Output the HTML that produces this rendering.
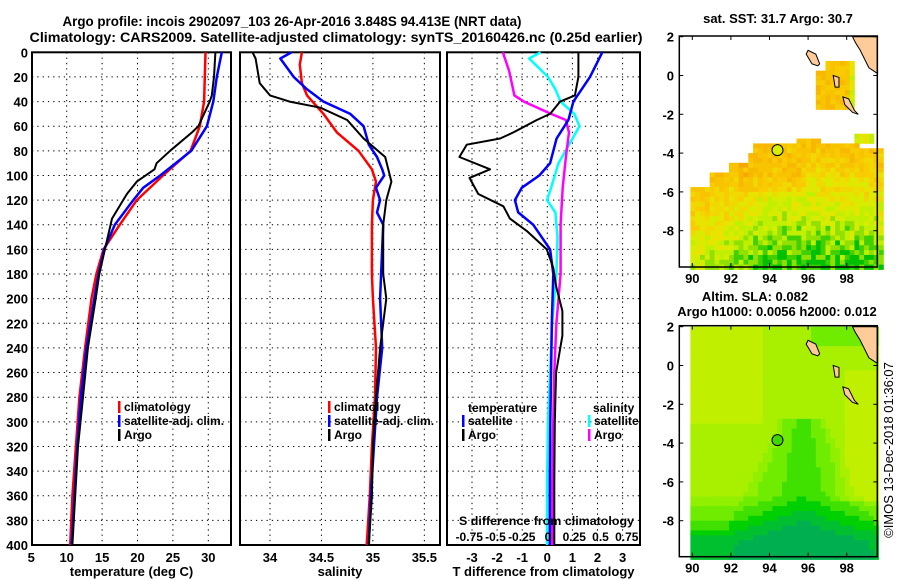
<!DOCTYPE html>
<html><head><meta charset="utf-8">
<style>
html,body{margin:0;padding:0;background:#fff;}
svg{display:block;font-family:"Liberation Sans",sans-serif;font-weight:bold;}
text{font-weight:bold;}
</style></head>
<body>
<svg id="fig" width="900" height="580" viewBox="0 0 900 580" xmlns="http://www.w3.org/2000/svg">
<text x="292" y="26" font-size="14" text-anchor="middle" textLength="459" lengthAdjust="spacingAndGlyphs">Argo profile: incois 2902097_103 26-Apr-2016 3.848S 94.413E (NRT data)</text>
<text x="336" y="42" font-size="14" text-anchor="middle" textLength="613" lengthAdjust="spacingAndGlyphs">Climatology: CARS2009. Satellite-adjusted climatology: synTS_20160426.nc (0.25d earlier)</text>
<g id="g1"></g>
<g id="g2"></g>
<g id="g3"></g>
<g id="m1"></g>
<g id="m2"></g>
<text transform="translate(893,450) rotate(-90)" font-size="13" text-anchor="middle" style="font-weight:normal">©IMOS 13-Dec-2018 01:36:07</text>
</svg>
<script>
// ---- data ----
const depthTicks = [0,20,40,60,80,100,120,140,160,180,200,220,240,260,280,300,320,340,360,380,400];
const tempTicks = [5,10,15,20,25,30];
const salTicks = [34,34.5,35,35.5];
const tdiffTicks = [-3,-2,-1,0,1,2,3];
const sdiffTickLabels = ["-0.75","-0.5","-0.25","0","0.25","0.5","0.75"];
const sdiffTickValues = [-0.75,-0.5,-0.25,0,0.25,0.5,0.75];

const climDepth = [0,40,60,80,100,120,140,160,180,200,240,280,320,360,400];
const climTemp  = [29.6,29.4,28.8,27.5,23.6,19.9,17.5,15.2,14.2,13.5,12.6,11.8,11.3,10.8,10.5];
const argoDepth = [0,20,35,40,60,65,80,90,95,105,115,135,160,180,200,240,280,320,360,400];
const argoTemp  = [31.0,30.8,30.5,30.2,28.6,27.7,24.6,22.7,22.4,19.9,18.5,16.4,15.4,14.6,14.1,13.0,12.3,11.6,11.2,10.8];
const satDepth  = [0,20,40,60,80,100,110,120,140,160,180,200,240,280,320,360,400];
const satTemp   = [31.9,31.2,30.7,29.8,27.6,23.2,20.8,19.4,16.8,15.3,14.5,13.9,12.8,12.0,11.5,11.1,10.7];

const argoSalDepth = [0,5,25,30,35,40,45,55,70,85,105,120,140,180,200,220,240,280,320,360,400];
const argoSal      = [33.83,33.86,33.90,33.95,34.0,34.19,34.49,34.75,34.91,35.12,35.18,35.13,35.10,35.10,35.13,35.10,35.07,35.03,35.0,34.99,34.96];
const satSalDepth  = [0,5,20,30,40,50,60,75,85,95,100,110,120,130,140,180,200,240,280,320,360,400];
const satSal       = [34.21,34.10,34.23,34.36,34.52,34.78,34.91,34.96,35.04,35.09,35.11,35.03,35.07,35.04,35.10,35.08,35.07,35.09,35.04,35.01,34.98,34.96];
const climSalDepth = [0,10,25,35,50,65,80,95,105,120,140,180,200,240,280,320,360,400];
const climSal      = [34.31,34.29,34.31,34.36,34.52,34.65,34.86,34.99,35.03,35.0,34.99,34.99,35.0,35.03,35.02,34.99,34.97,34.94];

const tdArgoDepth = [0,20,35,40,50,55,65,70,75,85,95,102,115,125,135,145,160,175,190,210,230,260,300,350,400];
const tdArgo      = [1.24,1.24,1.10,0.51,0.11,-0.42,-1.35,-1.88,-3.21,-3.5,-2.28,-3.1,-2.75,-1.75,-1.49,-0.82,-0.02,0.24,0.35,0.6,0.6,0.35,0.3,0.28,0.28];
const tdSatDepth  = [0,20,40,55,70,90,100,110,120,130,140,160,180,220,260,300,350,400];
const tdSat       = [2.19,1.70,1.04,0.84,0.37,0.11,-0.32,-1.02,-1.29,-1.16,-0.56,0.11,0.24,0.18,0.15,0.12,0.1,0.1];
const sdArgoDepth = [0,15,35,40,50,55,65,85,110,140,180,220,260,300,350,400];
const sdArgo      = [-0.43,-0.37,-0.32,-0.23,0.03,0.17,0.2,0.17,0.14,0.12,0.12,0.08,0.06,0.05,0.04,0.04];
const sdSatDepth  = [0,5,20,30,40,50,60,75,90,110,120,130,150,180,220,260,300,350,400];
const sdSat       = [-0.07,-0.18,0,0.07,0.12,0.25,0.3,0.2,0.1,0.03,-0.01,0.07,0.09,0.08,0.04,0.02,0.0,-0.01,-0.01];

const mapLonTicks = [90,92,94,96,98];
const mapLatTicks = [2,0,-2,-4,-6,-8];
const argoLon = 94.413, argoLat = -3.848;

// ---- helpers ----
const NS="http://www.w3.org/2000/svg";
function mk(parent, tag, attrs){const e=document.createElementNS(NS,tag);for(const k in attrs)e.setAttribute(k,attrs[k]);parent.appendChild(e);return e;}
const Y0=52.3, Y1=545, yD = d => Y0 + d*(Y1-Y0)/400;

function panel(g, x0, x1, xs, ticks, labels, title, prefix){
  depthTicks.forEach(d=>{ if(d===0||d===400) return;
    const l=mk(g,'line',{x1:x0,x2:x1,y1:yD(d),y2:yD(d),stroke:'#000','stroke-width':1,'stroke-dasharray':'1.3,4'});
    
    
  });
  ticks.forEach((t,i)=>{
    const x=xs(t);
    if(x>x0+2 && x<x1-2){
      const l=mk(g,'line',{x1:x,x2:x,y1:Y0,y2:Y1,stroke:'#000','stroke-width':1,'stroke-dasharray':'1.3,4'});
      
      
    }
    const tx=mk(g,'text',{x:x,y:562,'font-size':13,'text-anchor':'middle'});
    tx.textContent=labels[i];
    
    
  });
  const tt=mk(g,'text',{x:(x0+x1)/2,y:576,'font-size':13,'text-anchor':'middle'});
  tt.textContent=title;
  
  
  const r=mk(g,'rect',{x:x0,y:Y0,width:x1-x0,height:Y1-Y0,fill:'none',stroke:'#000','stroke-width':2});
  
  
}
function line(g, xs, vals, depths, color, w, name){
  const pts=vals.map((v,i)=>xs(v).toFixed(1)+','+yD(depths[i]).toFixed(1)).join(' ');
  const p=mk(g,'polyline',{points:pts,fill:'none',stroke:color,'stroke-width':w,'stroke-linejoin':'round'});
  
  
}
function legend(g, x, y, color, label, name){
  const l=mk(g,'rect',{x:x,y:y-10,width:2.5,height:12,fill:color});
  
  
  const t=mk(g,'text',{x:x+6,y:y,'font-size':12});
  t.textContent=label;
  
  
}

const g1=document.getElementById('g1');
depthTicks.forEach(d=>{
  const t=mk(g1,'text',{x:28,y:yD(d)+5,'font-size':13,'text-anchor':'end'});
  t.textContent=d;
  
  
});

const xT = v => 31.3 + (v-5)*7.08;
panel(g1,32,231,xT,tempTicks,tempTicks.map(String),'temperature (deg C)','temp');
line(g1,xT,climTemp,climDepth,'#f00',2.5,'temp-climatology-line');
line(g1,xT,satTemp,satDepth,'#00f',2.5,'temp-satellite-line');
line(g1,xT,argoTemp,argoDepth,'#000',2,'temp-argo-line');
legend(g1,118,411,'#f00','climatology','temp-legend-climatology');
legend(g1,118,425,'#00f','satellite-adj. clim.','temp-legend-satellite');
legend(g1,118,439,'#000','Argo','temp-legend-argo');

const g2=document.getElementById('g2');
const xS = v => 270 + (v-34)*102.9;
panel(g2,240,440,xS,salTicks,['34','34.5','35','35.5'],'salinity','sal');
line(g2,xS,climSal,climSalDepth,'#f00',2.5,'sal-climatology-line');
line(g2,xS,satSal,satSalDepth,'#00f',2.5,'sal-satellite-line');
line(g2,xS,argoSal,argoSalDepth,'#000',2,'sal-argo-line');
legend(g2,328,411,'#f00','climatology','sal-legend-climatology');
legend(g2,328,425,'#00f','satellite-adj. clim.','sal-legend-satellite');
legend(g2,328,439,'#000','Argo','sal-legend-argo');

const g3=document.getElementById('g3');
const xTd = v => 547.3 + v*25.1;
const xSd = v => 548 + v*105;
panel(g3,447,640,xTd,tdiffTicks,tdiffTicks.map(String),'T difference from climatology','diff');
line(g3,xSd,sdSat,sdSatDepth,'#0ff',2.5,'sdiff-satellite-line');
line(g3,xSd,sdArgo,sdArgoDepth,'#f0f',2.5,'sdiff-argo-line');
line(g3,xTd,tdSat,tdSatDepth,'#00f',2.5,'tdiff-satellite-line');
line(g3,xTd,tdArgo,tdArgoDepth,'#000',2,'tdiff-argo-line');
{
 let t=mk(g3,'text',{x:468,y:412,'font-size':12}); t.textContent='temperature';
  
 t=mk(g3,'text',{x:593,y:412,'font-size':12}); t.textContent='salinity';
  
}
legend(g3,462,425,'#00f','satellite','diff-legend-t-satellite');
legend(g3,462,439,'#000','Argo','diff-legend-t-argo');
legend(g3,588,425,'#0ff','satellite','diff-legend-s-satellite');
legend(g3,588,439,'#f0f','Argo','diff-legend-s-argo');
{
 const t=mk(g3,'text',{x:459,y:525,'font-size':12,textLength:175,lengthAdjust:'spacingAndGlyphs'}); t.textContent='S difference from climatology';
  
 sdiffTickValues.forEach((v,i)=>{
   const s=mk(g3,'text',{x:xSd(v),y:541,'font-size':12,'text-anchor':'middle'}); s.textContent=sdiffTickLabels[i];
    
 });
}

// ---- maps ----
const MX0=679.3, MX1=877.3;
const mx = lon => 692.3 + (lon-90)*19.3;
function hash(i,j){let h=(i*374761393 + j*668265263)>>>0; h=((h^(h>>>13))*1274126177)>>>0; return ((h^(h>>>16))>>>0)/4294967296;}
function drawLand(g, my){
  const land=[[98.3,2.0],[98.45,1.7],[98.7,1.3],[98.95,0.8],[99.15,0.4],[99.6,0.1],[99.6,2.0]];
  let p=mk(g,'polygon',{points:land.map(a=>mx(a[0])+','+my(a[1])).join(' '),fill:'#ffcc99',stroke:'#000','stroke-width':1});
   
  const isl=[[96.0,1.3],[96.4,1.1],[96.6,0.6],[96.5,0.5],[96.2,0.6],[95.9,1.1]];
  p=mk(g,'polygon',{points:isl.map(a=>mx(a[0])+','+my(a[1])).join(' '),fill:'#ffcc99',stroke:'#000','stroke-width':1});
   
  const isl2=[[97.8,-1.1],[98.1,-1.2],[98.4,-1.8],[98.6,-2.0],[98.3,-1.9],[97.9,-1.5]];
  p=mk(g,'polygon',{points:isl2.map(a=>mx(a[0])+','+my(a[1])).join(' '),fill:'#ffcc99',stroke:'#000','stroke-width':1});
   
  const isl3=[[97.3,0.0],[97.6,-0.1],[97.6,-0.6],[97.4,-0.6]];
  p=mk(g,'polygon',{points:isl3.map(a=>mx(a[0])+','+my(a[1])).join(' '),fill:'#ffcc99',stroke:'#000','stroke-width':1});
   
}
function mapAxes(g, my, yTop, yBot, name){
  const r=mk(g,'rect',{x:MX0,y:yTop,width:MX1-MX0,height:yBot-yTop,fill:'none',stroke:'#000','stroke-width':1.5});
   
  mapLonTicks.forEach(l=>{
    const x=mx(l);
    mk(g,'line',{x1:x,x2:x,y1:yTop,y2:yTop+4,stroke:'#000'});
    mk(g,'line',{x1:x,x2:x,y1:yBot,y2:yBot-4,stroke:'#000'});
    const t=mk(g,'text',{x:x,y:yBot+16,'font-size':13,'text-anchor':'middle'}); t.textContent=l;
     
  });
  mapLatTicks.forEach(l=>{
    const y=my(l);
    mk(g,'line',{x1:MX0,x2:MX0+4,y1:y,y2:y,stroke:'#000'});
    mk(g,'line',{x1:MX1,x2:MX1-4,y1:y,y2:y,stroke:'#000'});
    const t=mk(g,'text',{x:674,y:y+5,'font-size':13,'text-anchor':'end'}); t.textContent=l;
     
  });
}

// SST map
const m1=document.getElementById('m1');
const my1 = lat => 36.7 + (2-lat)*19.4;
{
 const t=mk(m1,'text',{x:778,y:23,'font-size':13,'text-anchor':'middle'}); t.textContent='sat. SST: 31.7 Argo: 30.7';
  
 const topLat = lon => lon<90.9?-5.6:lon<91.9?-5.0:lon<92.7?-4.5:lon<93.0?-4.0:lon<95.3?-3.5:lon<96.6?-3.25:lon<98.5?-3.5:-3.75;
 const cells=mk(m1,'g',{});
  
 const sstPal=['#f5a800','#f8b800','#f8c400','#f8cc00','#f0d800','#e8e400','#d8ec00','#c0f000','#90e000','#40d000','#00c000'];
 const step=0.25;
 for(let i=0;i<40;i++){ const lon=89.9+i*step;
  for(let j=0;j<60;j++){ const lat=2-j*step;
   let inside=false, base=0;
   if(lat<=topLat(lon) && lat>-9.9){inside=true; base = 2 + (topLat(lon)-lat)/6.2*7.5; }
   if(lon>=96.4 && lon<98.3 && lat<=0.8 && lat>-1.7 && !(lon<96.8 && lat>0.3)){inside=true; base=2+(lon>97.9?4:0);}
   if(lon>=98.4 && lon<99.3 && lat<=-2.8 && lat>-3.4){inside=true; base=6;}
   if(!inside) continue;
   let v=base + (hash(i,j)-0.5)*3.0;
   if(lat<-4.2 && lat>-6 && lon>92.3 && lon<95.5) v-=1.2;
   v=Math.max(0,Math.min(10,Math.round(v)));
   mk(cells,'rect',{x:mx(lon).toFixed(2),y:my1(lat).toFixed(2),width:(step*19.3+0.4).toFixed(2),height:(step*19.4+0.4).toFixed(2),fill:sstPal[v]});
  }
 }
 drawLand(m1,my1);
 const c=mk(m1,'circle',{cx:mx(argoLon),cy:my1(argoLat),r:5.5,fill:'#d8f000',stroke:'#000','stroke-width':1});
  
 mapAxes(m1,my1,36,267,'sst-map');
}

// SLA map
const m2=document.getElementById('m2');
const my2 = lat => 326.7 + (2-lat)*19.4;
{
 let t=mk(m2,'text',{x:755,y:301,'font-size':13,'text-anchor':'middle'}); t.textContent='Altim. SLA: 0.082';
  
 t=mk(m2,'text',{x:777,y:316,'font-size':13,'text-anchor':'middle'}); t.textContent='Argo h1000: 0.0056 h2000: 0.012';
  
 const cells=mk(m2,'g',{});
  
 const slaPal=['#00b050','#00c030','#00d000','#40e000','#70ec00','#90f000','#a8f000','#c0f000','#d8f000'];
 const step=0.25;
 for(let i=0;i<39;i++){ const lon=89.9+i*step;
  for(let j=0;j<48;j++){ const lat=2-j*step;
   let v=5.5;
   if(lon<93.5 && lat>-3) v+=1.2;
   if(lon>97 && lat<0 && lat>-7) v+=1.8*Math.min(1,(lon-97)/1.2);
   if(lat>1 && lon>96) v-=2;
   const tongueW = 1.2 + Math.max(0,(-3-lat))*0.5;
   const dx=Math.abs(lon-95.6);
   if(lat<-2.5 && dx<tongueW) v-=2.2*(1-dx/tongueW)+0.6;
   if(lat<-6.5) v-=Math.min(4,(-6.5-lat)*1.6);
   if(lat<-8.7) v=Math.min(v,0.6+(lon>97?1:0));
   v=Math.max(0,Math.min(8,Math.round(v)));
   mk(cells,'rect',{x:mx(lon).toFixed(2),y:my2(lat).toFixed(2),width:(step*19.3+0.4).toFixed(2),height:(step*19.4+0.4).toFixed(2),fill:slaPal[v]});
  }
 }
 drawLand(m2,my2);
 const c=mk(m2,'circle',{cx:mx(argoLon),cy:my2(argoLat),r:5.5,fill:'#40d800',stroke:'#000','stroke-width':1});
  
 mapAxes(m2,my2,325.7,556.7,'sla-map');
}
</script>
</body></html>
